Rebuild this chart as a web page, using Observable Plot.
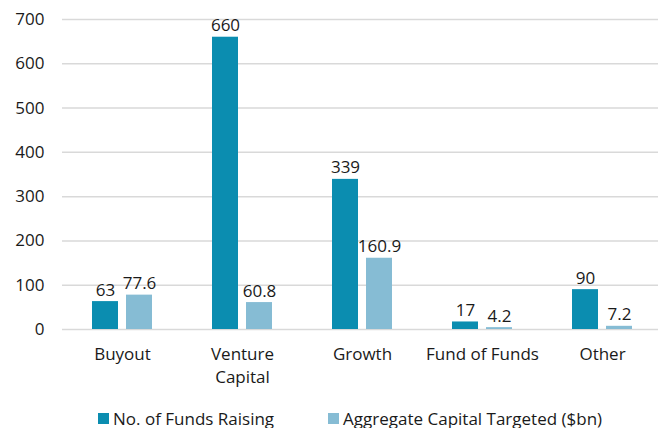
<!DOCTYPE html>
<html><head><meta charset="utf-8">
<script src="https://cdn.jsdelivr.net/npm/d3@7"></script>
<script src="https://cdn.jsdelivr.net/npm/@observablehq/plot@0.6"></script>
<style>
body{margin:0;background:#fff;font-family:"Open Sans",sans-serif;overflow:hidden;}
#chart svg{overflow:hidden;}
#legend{display:flex;align-items:center;padding-left:98px;margin-top:12px;font-size:17px;color:#1a1a1a;height:22px;}
.item{display:flex;align-items:center;}
.sw{width:11px;height:11px;margin-right:4px;}
</style>
</head><body>
<div id="chart"></div>
<script>
const categories = ["Buyout", "Venture Capital", "Growth", "Fund of Funds", "Other"];
const seriesNames = ["No. of Funds Raising", "Aggregate Capital Targeted ($bn)"];
const fundsRaising = [63, 660, 339, 17, 90];
const capitalTargeted = [77.6, 60.8, 160.9, 4.2, 7.2];
const yTicks = [0, 100, 200, 300, 400, 500, 600, 700];
const colors = ["#0b8db0", "#86bcd4"];

const data = [];
categories.forEach((c, i) => {
  data.push({category: c, series: seriesNames[0], value: fundsRaising[i], label: String(fundsRaising[i])});
  data.push({category: c, series: seriesNames[1], value: capitalTargeted[i], label: capitalTargeted[i].toFixed(1)});
});

const chart = Plot.plot({
  width: 658,
  height: 395,
  marginLeft: 61,
  marginRight: -4,
  marginTop: 19,
  marginBottom: 66,
  style: {fontFamily: "Open Sans", fontSize: "17px", color: "#1a1a1a", background: "#fff"},
  fx: {domain: categories, padding: 0, label: null, axis: null},
  x: {domain: seriesNames, paddingInner: 0.229, paddingOuter: 0.829, axis: null},
  y: {domain: [0, 700], label: null, axis: null},
  color: {domain: seriesNames, range: colors},
  marks: [
    Plot.gridY(yTicks, {stroke: "#d9d9d9", strokeOpacity: 1, strokeWidth: 1.5}),
    Plot.barY(data, {fx: "category", x: "series", y: "value", fill: "series"}),
    Plot.text(data, {fx: "category", x: "series", y: "value", text: "label", dy: -6, lineAnchor: "bottom", fontSize: 17, fill: "#1a1a1a"}),
    Plot.axisY(yTicks, {anchor: "left", tickSize: 0, tickPadding: 18, fontSize: 17, label: null, fill: "#1a1a1a"}),
    Plot.axisFx({anchor: "bottom", tickSize: 0, tickPadding: 14, fontSize: 17, lineHeight: 1.35, label: null, fill: "#1a1a1a",
      tickFormat: d => d === "Venture Capital" ? "Venture\nCapital" : d})
  ]
});
document.getElementById("chart").appendChild(chart);

const legend = document.createElement("div");
legend.id = "legend";
seriesNames.forEach((s, i) => {
  const it = document.createElement("div");
  it.className = "item";
  if (i > 0) it.style.marginLeft = "54px";
  const sw = document.createElement("div");
  sw.className = "sw";
  sw.style.background = colors[i];
  const t = document.createElement("span");
  t.textContent = s;
  it.appendChild(sw); it.appendChild(t);
  legend.appendChild(it);
});
document.body.appendChild(legend);
</script>
</body></html>
